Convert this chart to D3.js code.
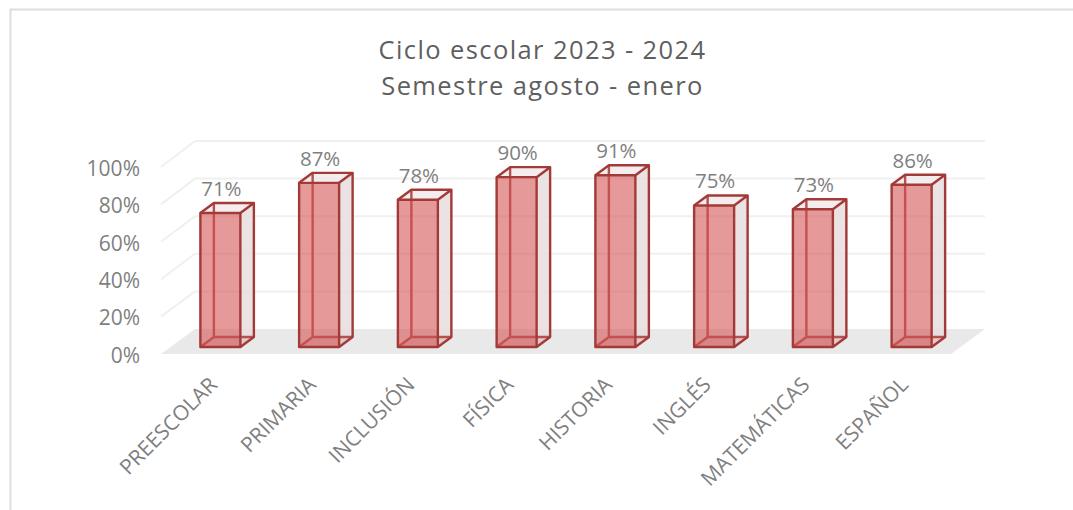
<!DOCTYPE html>
<html lang="es">
<head>
<meta charset="UTF-8">
<title>Ciclo escolar</title>
<script src="https://d3js.org/d3.v7.min.js"></script>
<style>
html,body{margin:0;padding:0;background:#fff;overflow:hidden}
svg{display:block}
text{font-family:"Open Sans",sans-serif}
</style>
</head>
<body>
<script>
const categories = ["PREESCOLAR","PRIMARIA","INCLUSIÓN","FÍSICA","HISTORIA","INGLÉS","MATEMÁTICAS","ESPAÑOL"]
const values = [71,87,78,90,91,75,73,86]
const yTicks = [0,20,40,60,80,100]
const titleLines = ["Ciclo escolar 2023 - 2024","Semestre agosto - enero"]

const svg = d3.select("body").append("svg").attr("width",1073).attr("height",510)

// chart frame, only the top and left edges are in the picture
svg.append("path").attr("d","M10.5,510V9.5H1073").attr("fill","none").attr("stroke","#dedede").attr("stroke-width",2)

svg.selectAll(".title").data(titleLines).enter().append("text")
    .attr("x",542.5).attr("y",(d,i)=>59+i*36)
    .attr("text-anchor","middle")
    .attr("font-size",25.5).attr("letter-spacing",1.4).attr("fill","#5f5f5f")
    .text(d=>d)

// three planes: front of the floor (axis labels), bar front, back wall
const yFront = d3.scaleLinear().domain([0,100]).range([354,167])
const yBar = d3.scaleLinear().domain([0,100]).range([347,158.3])
const yWall = d3.scaleLinear().domain([0,100]).range([329,141])
const x = d3.scaleBand().domain(categories).range([171,961]).paddingInner(.595).paddingOuter(.2975)
const dx = 13.5, dy = -10

// floor
svg.append("polygon")
    .attr("points",[[161,yFront(0)],[951,yFront(0)],[985,yWall(0)],[195,yWall(0)]].join(" "))
    .attr("fill","#e9e9e9")

// walls
const grid = svg.append("g").attr("stroke","#f0f0f0").attr("stroke-width",2).attr("fill","none")
grid.selectAll(".wall").data(yTicks.slice(1)).enter().append("line")
    .attr("x1",195).attr("x2",985).attr("y1",d=>yWall(d)).attr("y2",d=>yWall(d))
grid.selectAll(".side").data(yTicks.slice(1)).enter().append("line")
    .attr("x1",161).attr("x2",195).attr("y1",d=>yFront(d)).attr("y2",d=>yWall(d))

// y axis
const yAxis = d3.axisLeft(yFront).tickValues(yTicks).tickFormat(d=>d+"%").tickSize(0).tickPadding(0)
const yG = svg.append("g").attr("transform","translate(140,1.5)").call(yAxis)
yG.select(".domain").remove()
yG.selectAll("text").attr("font-size",21).attr("fill","#7f7f7f").style("font-family",'"Open Sans",sans-serif')

// bars
const stroke = "#a33a38"
const bars = svg.selectAll(".bar").data(values).enter().append("g")
    .attr("class","bar")
    .attr("fill","none").attr("stroke",stroke).attr("stroke-width",2.4).attr("stroke-linejoin","round")
const left = (d,i)=>x(categories[i])
const right = (d,i)=>x(categories[i])+x.bandwidth()

// back faces and side show through the translucent front
bars.append("polygon").attr("stroke","none").attr("fill","#e8dede").attr("fill-opacity",.85)
    .attr("points",(d,i)=>[[right(d,i),yBar(d)],[right(d,i)+dx,yBar(d)+dy],[right(d,i)+dx,yBar(0)+dy],[right(d,i),yBar(0)]].join(" "))
bars.append("polygon").attr("stroke","none").attr("fill","#f0e8e8").attr("fill-opacity",.8)
    .attr("points",(d,i)=>[[left(d,i),yBar(d)],[left(d,i)+dx,yBar(d)+dy],[right(d,i)+dx,yBar(d)+dy],[right(d,i),yBar(d)]].join(" "))
bars.append("polygon").attr("stroke","none").attr("fill","#d9a0a0").attr("fill-opacity",.35)
    .attr("points",(d,i)=>[[left(d,i),yBar(0)],[left(d,i)+dx,yBar(0)+dy],[right(d,i)+dx,yBar(0)+dy],[right(d,i),yBar(0)]].join(" "))
// hidden edges
bars.append("path").attr("stroke","#b5524f")
    .attr("d",(d,i)=>`M${left(d,i)+dx},${yBar(d)+dy}V${yBar(0)+dy}H${right(d,i)+dx}M${left(d,i)+dx},${yBar(0)+dy}L${left(d,i)},${yBar(0)}`)
// front face
bars.append("rect")
    .attr("x",left).attr("y",d=>yBar(d)).attr("width",x.bandwidth()).attr("height",d=>yBar(0)-yBar(d))
    .attr("fill","#d24f4f").attr("fill-opacity",.58)
// visible edges
bars.append("path")
    .attr("d",(d,i)=>`M${left(d,i)},${yBar(d)}L${left(d,i)+dx},${yBar(d)+dy}H${right(d,i)+dx}V${yBar(0)+dy}L${right(d,i)},${yBar(0)}M${right(d,i)},${yBar(d)}L${right(d,i)+dx},${yBar(d)+dy}`)

// value labels
svg.selectAll(".val").data(values).enter().append("text")
    .attr("x",(d,i)=>x(categories[i])+x.bandwidth()/2+1)
    .attr("y",d=>yBar(d)-17)
    .attr("text-anchor","middle").attr("font-size",20.5).attr("fill","#7f7f7f")
    .text(d=>d+"%")

// category labels
svg.selectAll(".cat").data(categories).enter().append("text")
    .attr("transform",d=>`translate(${x(d)+x.bandwidth()/2-2},${386}) rotate(-45)`)
    .attr("text-anchor","end").attr("font-size",21).attr("fill","#7f7f7f")
    .text(d=>d)
</script>
</body>
</html>
